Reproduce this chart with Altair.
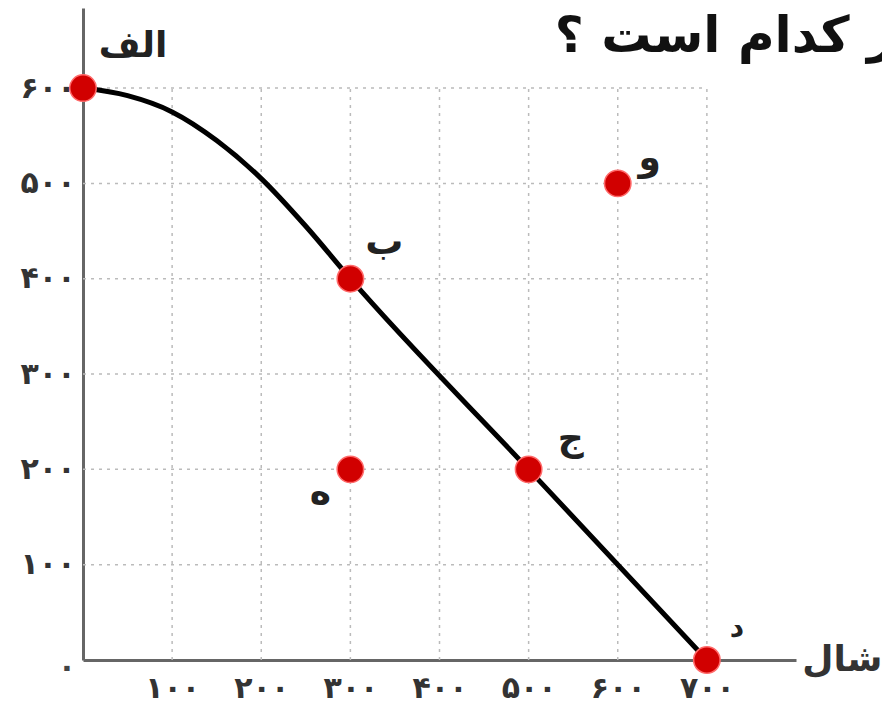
import altair as alt
import pandas as pd

# ---- data ----
curve_x = [0, 50, 100, 150, 200, 250, 300, 500, 700]
curve_y = [600, 592, 575, 545, 505, 455, 400, 200, 0]

point_names = ["الف", "ب", "ج", "د", "ه", "و"]
point_x = [0, 300, 500, 700, 300, 600]
point_y = [600, 400, 200, 0, 200, 500]

x_ticks = [100, 200, 300, 400, 500, 600, 700]
x_tick_labels = ["۱۰۰", "۲۰۰", "۳۰۰", "۴۰۰", "۵۰۰", "۶۰۰", "۷۰۰"]
y_ticks = [100, 200, 300, 400, 500, 600]
y_tick_labels = ["۱۰۰", "۲۰۰", "۳۰۰", "۴۰۰", "۵۰۰", "۶۰۰"]
origin_label = "۰"

x_axis_word = "شال"
title_text = "ر کدام است ؟"

# ---- styling ----
FONT = "DejaVu Sans"
label_offsets = {  # dx, dy, size
    "الف": (50, -42, 36),
    "ب": (34, -36, 38),
    "ج": (42, -30, 36),
    "د": (30, -31, 28),
    "ه": (-30, 24, 36),
    "و": (32, -24, 36),
}

X_MAX, Y_MAX = 800, 684
xs = alt.Scale(domain=[0, X_MAX], nice=False, zero=False)
ys = alt.Scale(domain=[0, Y_MAX], nice=False, zero=False)


def label_expr(vals, labs):
    expr = "''"
    for v, l in reversed(list(zip(vals, labs))):
        expr = f"datum.value == {v} ? '{l}' : ({expr})"
    return expr


x_axis = alt.Axis(values=x_ticks, labelExpr=label_expr(x_ticks, x_tick_labels),
                  title=None, grid=False, ticks=False, domainColor="#666",
                  domainWidth=3, labelFont=FONT, labelFontSize=30, labelFontWeight="bold",
                  labelColor="#333", labelPadding=13)
y_axis = alt.Axis(values=y_ticks, labelExpr=label_expr(y_ticks, y_tick_labels),
                  title=None, grid=False, ticks=False, domainColor="#666",
                  domainWidth=3, labelFont=FONT, labelFontSize=30, labelFontWeight="bold",
                  labelColor="#333", labelPadding=8)

curve_df = pd.DataFrame({"x": curve_x, "y": curve_y})
pts_df = pd.DataFrame({"name": point_names, "x": point_x, "y": point_y})
vgrid = pd.DataFrame({"x": x_ticks, "y0": 0, "y1": max(y_ticks)})
hgrid = pd.DataFrame({"y": y_ticks, "x0": 0, "x1": max(x_ticks)})

base_axes = alt.Chart(curve_df).mark_line(opacity=0).encode(
    x=alt.X("x:Q", scale=xs, axis=x_axis),
    y=alt.Y("y:Q", scale=ys, axis=y_axis),
)

vgrid_layer = alt.Chart(vgrid).mark_rule(color="#bbbbbb", strokeDash=[3, 5], strokeWidth=1.5).encode(
    x=alt.X("x:Q", scale=xs), y=alt.Y("y0:Q", scale=ys), y2="y1:Q")
hgrid_layer = alt.Chart(hgrid).mark_rule(color="#bbbbbb", strokeDash=[3, 5], strokeWidth=1.5).encode(
    y=alt.Y("y:Q", scale=ys), x=alt.X("x0:Q", scale=xs), x2="x1:Q")

curve_layer = alt.Chart(curve_df).mark_line(color="black", strokeWidth=5, interpolate="monotone").encode(
    x=alt.X("x:Q", scale=xs), y=alt.Y("y:Q", scale=ys))

points_layer = alt.Chart(pts_df).mark_circle(color="#d10000", size=700, opacity=1,
                                             stroke="#ff6a6a", strokeWidth=1.5).encode(
    x=alt.X("x:Q", scale=xs), y=alt.Y("y:Q", scale=ys))

label_layers = []
for name in point_names:
    dx, dy, fs = label_offsets[name]
    label_layers.append(
        alt.Chart(pts_df[pts_df["name"] == name]).mark_text(
            font=FONT, fontSize=fs, fontWeight="bold", color="#222", dx=dx, dy=dy
        ).encode(x=alt.X("x:Q", scale=xs), y=alt.Y("y:Q", scale=ys), text="name:N")
    )

origin_layer = alt.Chart(pd.DataFrame({"x": [0], "y": [0], "t": [origin_label]})).mark_text(
    font=FONT, fontSize=30, fontWeight="bold", color="#444", dx=-16, dy=8
).encode(x=alt.X("x:Q", scale=xs), y=alt.Y("y:Q", scale=ys), text="t:N")

word_layer = alt.Chart(pd.DataFrame({"x": [852], "y": [0], "t": [x_axis_word]})).mark_text(
    font=FONT, fontSize=36, fontWeight="bold", color="#333", baseline="middle"
).encode(x=alt.X("x:Q", scale=xs), y=alt.Y("y:Q", scale=ys), text="t:N")

title_layer = alt.Chart(pd.DataFrame({"x": [912], "y": [654], "t": [title_text]})).mark_text(
    font=FONT, fontSize=50, fontWeight="bold", color="#111", align="right", baseline="middle"
).encode(x=alt.X("x:Q", scale=xs), y=alt.Y("y:Q", scale=ys), text="t:N")

chart = alt.layer(
    base_axes, vgrid_layer, hgrid_layer, curve_layer, points_layer,
    *label_layers, origin_layer, word_layer, title_layer
).properties(
    width=713, height=652,
    autosize=alt.AutoSizeParams(type="none"),
    padding={"left": 75, "top": 0, "right": 86, "bottom": 43},
).configure(background="white").configure_view(stroke=None)

chart.save("out.html", embed_options={"renderer": "svg", "actions": False})
